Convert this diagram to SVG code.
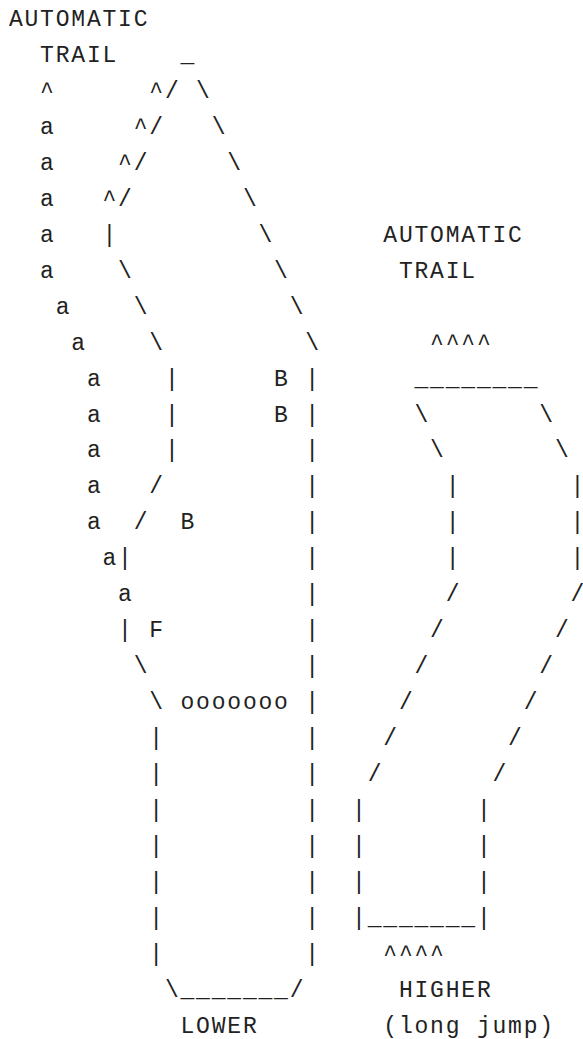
<svg xmlns="http://www.w3.org/2000/svg" width="583" height="1039" viewBox="0 0 583 1039">
<style>
text{font-family:"Liberation Mono","Courier New",monospace;font-size:23px;letter-spacing:1.8px;fill:#222}
</style>
<rect width="583" height="1039" fill="#fff"/>
<g id="labels">
<text x="8.9" y="26">AUTOMATIC</text>
<text x="40.1" y="62">TRAIL</text>
<text x="383.3" y="241.7">AUTOMATIC</text>
<text x="398.9" y="277.7">TRAIL</text>
<text x="398.9" y="996.7">HIGHER</text>
<text x="180.5" y="1032.6">LOWER</text>
<text x="383.3" y="1032.6">(long jump)</text>
</g>
<g id="left-trail">
<text x="40.1" y="97.9">^</text>
<text x="40.1" y="133.9">a</text>
<text x="40.1" y="169.8">a</text>
<text x="40.1" y="205.8">a</text>
<text x="40.1" y="241.7">a</text>
<text x="40.1" y="277.7">a</text>
<text x="55.7" y="313.6">a</text>
<text x="71.3" y="349.6">a</text>
<text x="86.9" y="385.5">a</text>
<text x="86.9" y="421.5">a</text>
<text x="86.9" y="457.4">a</text>
<text x="86.9" y="493.4">a</text>
<text x="86.9" y="529.3">a</text>
<text x="102.5" y="565.3">a|</text>
<text x="118.1" y="601.2">a</text>
<text x="118.1" y="637.2">|</text>
<text x="149.3" y="637.2">F</text>
</g>
<g id="left-figure">
<text x="180.5" y="62">_</text>
<text x="149.3" y="97.9">^/</text>
<text x="196.1" y="97.9">\</text>
<text x="133.7" y="133.9">^/</text>
<text x="211.7" y="133.9">\</text>
<text x="118.1" y="169.8">^/</text>
<text x="227.3" y="169.8">\</text>
<text x="102.5" y="205.8">^/</text>
<text x="242.9" y="205.8">\</text>
<text x="102.5" y="241.7">|</text>
<text x="258.5" y="241.7">\</text>
<text x="118.1" y="277.7">\</text>
<text x="274.1" y="277.7">\</text>
<text x="133.7" y="313.6">\</text>
<text x="289.7" y="313.6">\</text>
<text x="149.3" y="349.6">\</text>
<text x="305.3" y="349.6">\</text>
<text x="164.9" y="385.5">|</text>
<text x="274.1" y="385.5">B</text>
<text x="305.3" y="385.5">|</text>
<text x="164.9" y="421.5">|</text>
<text x="274.1" y="421.5">B</text>
<text x="305.3" y="421.5">|</text>
<text x="164.9" y="457.4">|</text>
<text x="305.3" y="457.4">|</text>
<text x="149.3" y="493.4">/</text>
<text x="305.3" y="493.4">|</text>
<text x="133.7" y="529.3">/</text>
<text x="180.5" y="529.3">B</text>
<text x="305.3" y="529.3">|</text>
<text x="305.3" y="565.3">|</text>
<text x="305.3" y="601.2">|</text>
<text x="305.3" y="637.2">|</text>
<text x="133.7" y="673.1">\</text>
<text x="305.3" y="673.1">|</text>
<text x="149.3" y="709.1">\</text>
<text x="180.5" y="709.1">ooooooo</text>
<text x="305.3" y="709.1">|</text>
<text x="149.3" y="745">|</text>
<text x="305.3" y="745">|</text>
<text x="149.3" y="781">|</text>
<text x="305.3" y="781">|</text>
<text x="149.3" y="816.9">|</text>
<text x="305.3" y="816.9">|</text>
<text x="149.3" y="852.9">|</text>
<text x="305.3" y="852.9">|</text>
<text x="149.3" y="888.8">|</text>
<text x="305.3" y="888.8">|</text>
<text x="149.3" y="924.8">|</text>
<text x="305.3" y="924.8">|</text>
<text x="149.3" y="960.7">|</text>
<text x="305.3" y="960.7">|</text>
<text x="164.9" y="996.7">\_______/</text>
</g>
<g id="right-figure">
<text x="430.1" y="349.6">^^^^</text>
<text x="414.5" y="385.5">________</text>
<text x="414.5" y="421.5">\</text>
<text x="539.3" y="421.5">\</text>
<text x="430.1" y="457.4">\</text>
<text x="554.9" y="457.4">\</text>
<text x="445.7" y="493.4">|</text>
<text x="570.5" y="493.4">|</text>
<text x="445.7" y="529.3">|</text>
<text x="570.5" y="529.3">|</text>
<text x="445.7" y="565.3">|</text>
<text x="570.5" y="565.3">|</text>
<text x="445.7" y="601.2">/</text>
<text x="570.5" y="601.2">/</text>
<text x="430.1" y="637.2">/</text>
<text x="554.9" y="637.2">/</text>
<text x="414.5" y="673.1">/</text>
<text x="539.3" y="673.1">/</text>
<text x="398.9" y="709.1">/</text>
<text x="523.7" y="709.1">/</text>
<text x="383.3" y="745">/</text>
<text x="508.1" y="745">/</text>
<text x="367.7" y="781">/</text>
<text x="492.5" y="781">/</text>
<text x="352.1" y="816.9">|</text>
<text x="476.9" y="816.9">|</text>
<text x="352.1" y="852.9">|</text>
<text x="476.9" y="852.9">|</text>
<text x="352.1" y="888.8">|</text>
<text x="476.9" y="888.8">|</text>
<text x="352.1" y="924.8">|_______|</text>
<text x="383.3" y="960.7">^^^^</text>
</g>
</svg>
